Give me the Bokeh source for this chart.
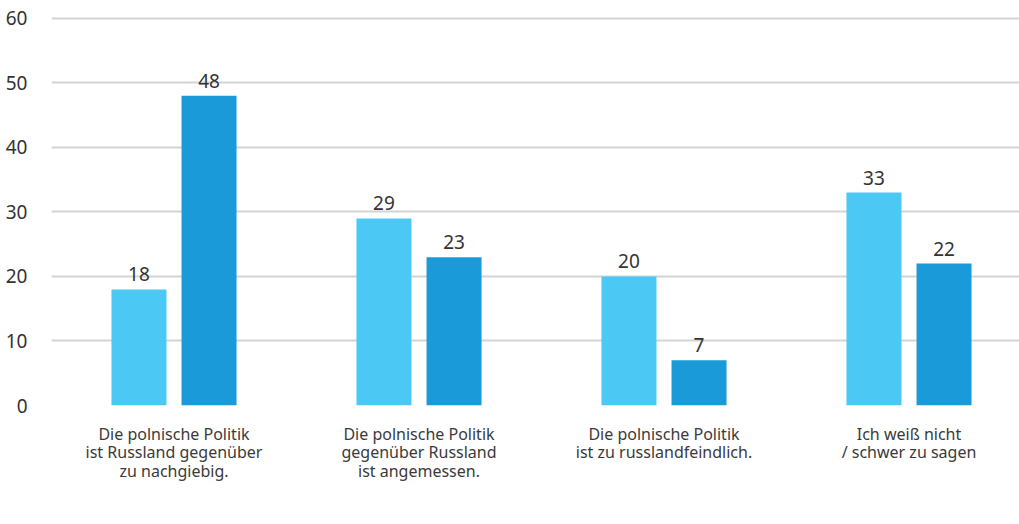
from bokeh.plotting import figure
from bokeh.models import ColumnDataSource, Range1d, FixedTicker, Legend, LegendItem
from bokeh.core.properties import value
from bokeh.embed import file_html
from bokeh.resources import INLINE

categories = [
    "Die polnische Politik\nist Russland gegenüber\nzu nachgiebig.",
    "Die polnische Politik\ngegenüber Russland\nist angemessen.",
    "Die polnische Politik\nist zu russlandfeindlich.",
    "Ich weiß nicht\n/ schwer zu sagen",
]
feb_2022 = [18, 29, 20, 33]
maerz_2022 = [48, 23, 7, 22]
series_names = ["Februar 2022", "März 2022"]
y_ticks = [0, 10, 20, 30, 40, 50, 60]

FONT = "Noto Sans"
C_FEB = "#4BC8F3"
C_MAR = "#1A9AD8"

xc = [i + 0.5 for i in range(len(categories))]
off = 0.143
bw = 0.2245
src_feb = ColumnDataSource(dict(x=[v - off for v in xc], top=feb_2022, lab=[str(v) for v in feb_2022]))
src_mar = ColumnDataSource(dict(x=[v + off for v in xc], top=maerz_2022, lab=[str(v) for v in maerz_2022]))

p = figure(frame_width=968, frame_height=389, output_backend="svg", toolbar_location=None,
           x_range=Range1d(0, 968 / 245), y_range=Range1d(0, 60.3),
           min_border_left=51, min_border_right=0, min_border_top=16, min_border_bottom=0)
p.outline_line_color = None
p.background_fill_color = "white"
p.border_fill_color = "white"

p.xgrid.grid_line_color = None
p.ygrid.grid_line_color = "#d4d4d4"
p.ygrid.grid_line_width = 2
p.ygrid.ticker = FixedTicker(ticks=y_ticks)

p.yaxis.ticker = FixedTicker(ticks=y_ticks)
p.yaxis.axis_line_color = None
p.yaxis.major_tick_line_color = None
p.yaxis.minor_tick_line_color = None
p.yaxis.major_label_text_font = FONT
p.yaxis.major_label_text_font_size = "19px"
p.yaxis.major_label_text_color = "#333333"
p.yaxis.major_label_standoff = 18

p.xaxis.ticker = FixedTicker(ticks=xc)
p.xaxis.major_label_overrides = {v: c for v, c in zip(xc, categories)}
p.xaxis.axis_line_color = None
p.xaxis.major_tick_line_color = None
p.xaxis.minor_tick_line_color = None
p.xaxis.major_label_text_font = FONT
p.xaxis.major_label_text_font_size = "16px"
p.xaxis.major_label_text_color = "#3a3a3a"
p.xaxis.major_label_standoff = 11
p.xaxis.major_label_text_line_height = 0.86

r_feb = p.vbar(x="x", top="top", width=bw, source=src_feb, fill_color=C_FEB, line_color=None)
r_mar = p.vbar(x="x", top="top", width=bw, source=src_mar, fill_color=C_MAR, line_color=None)

for s in (src_feb, src_mar):
    p.text(x="x", y="top", text="lab", source=s, text_align="center", text_baseline="alphabetic",
           y_offset=-15, text_font=value(FONT), text_font_size="19px", text_color="#333333")

legend = Legend(items=[LegendItem(label=series_names[0], renderers=[r_feb]),
                       LegendItem(label=series_names[1], renderers=[r_mar])],
                location=(348, 10), orientation="horizontal",
                glyph_width=13, glyph_height=13, label_standoff=6, spacing=25,
                padding=0, margin=0, border_line_color=None, background_fill_alpha=0,
                label_text_font=FONT, label_text_font_size="19px", label_text_color="#555555",
                label_text_line_height=0.9)
p.add_layout(legend, "below")

open("out.html", "w").write(file_html(p, INLINE))
